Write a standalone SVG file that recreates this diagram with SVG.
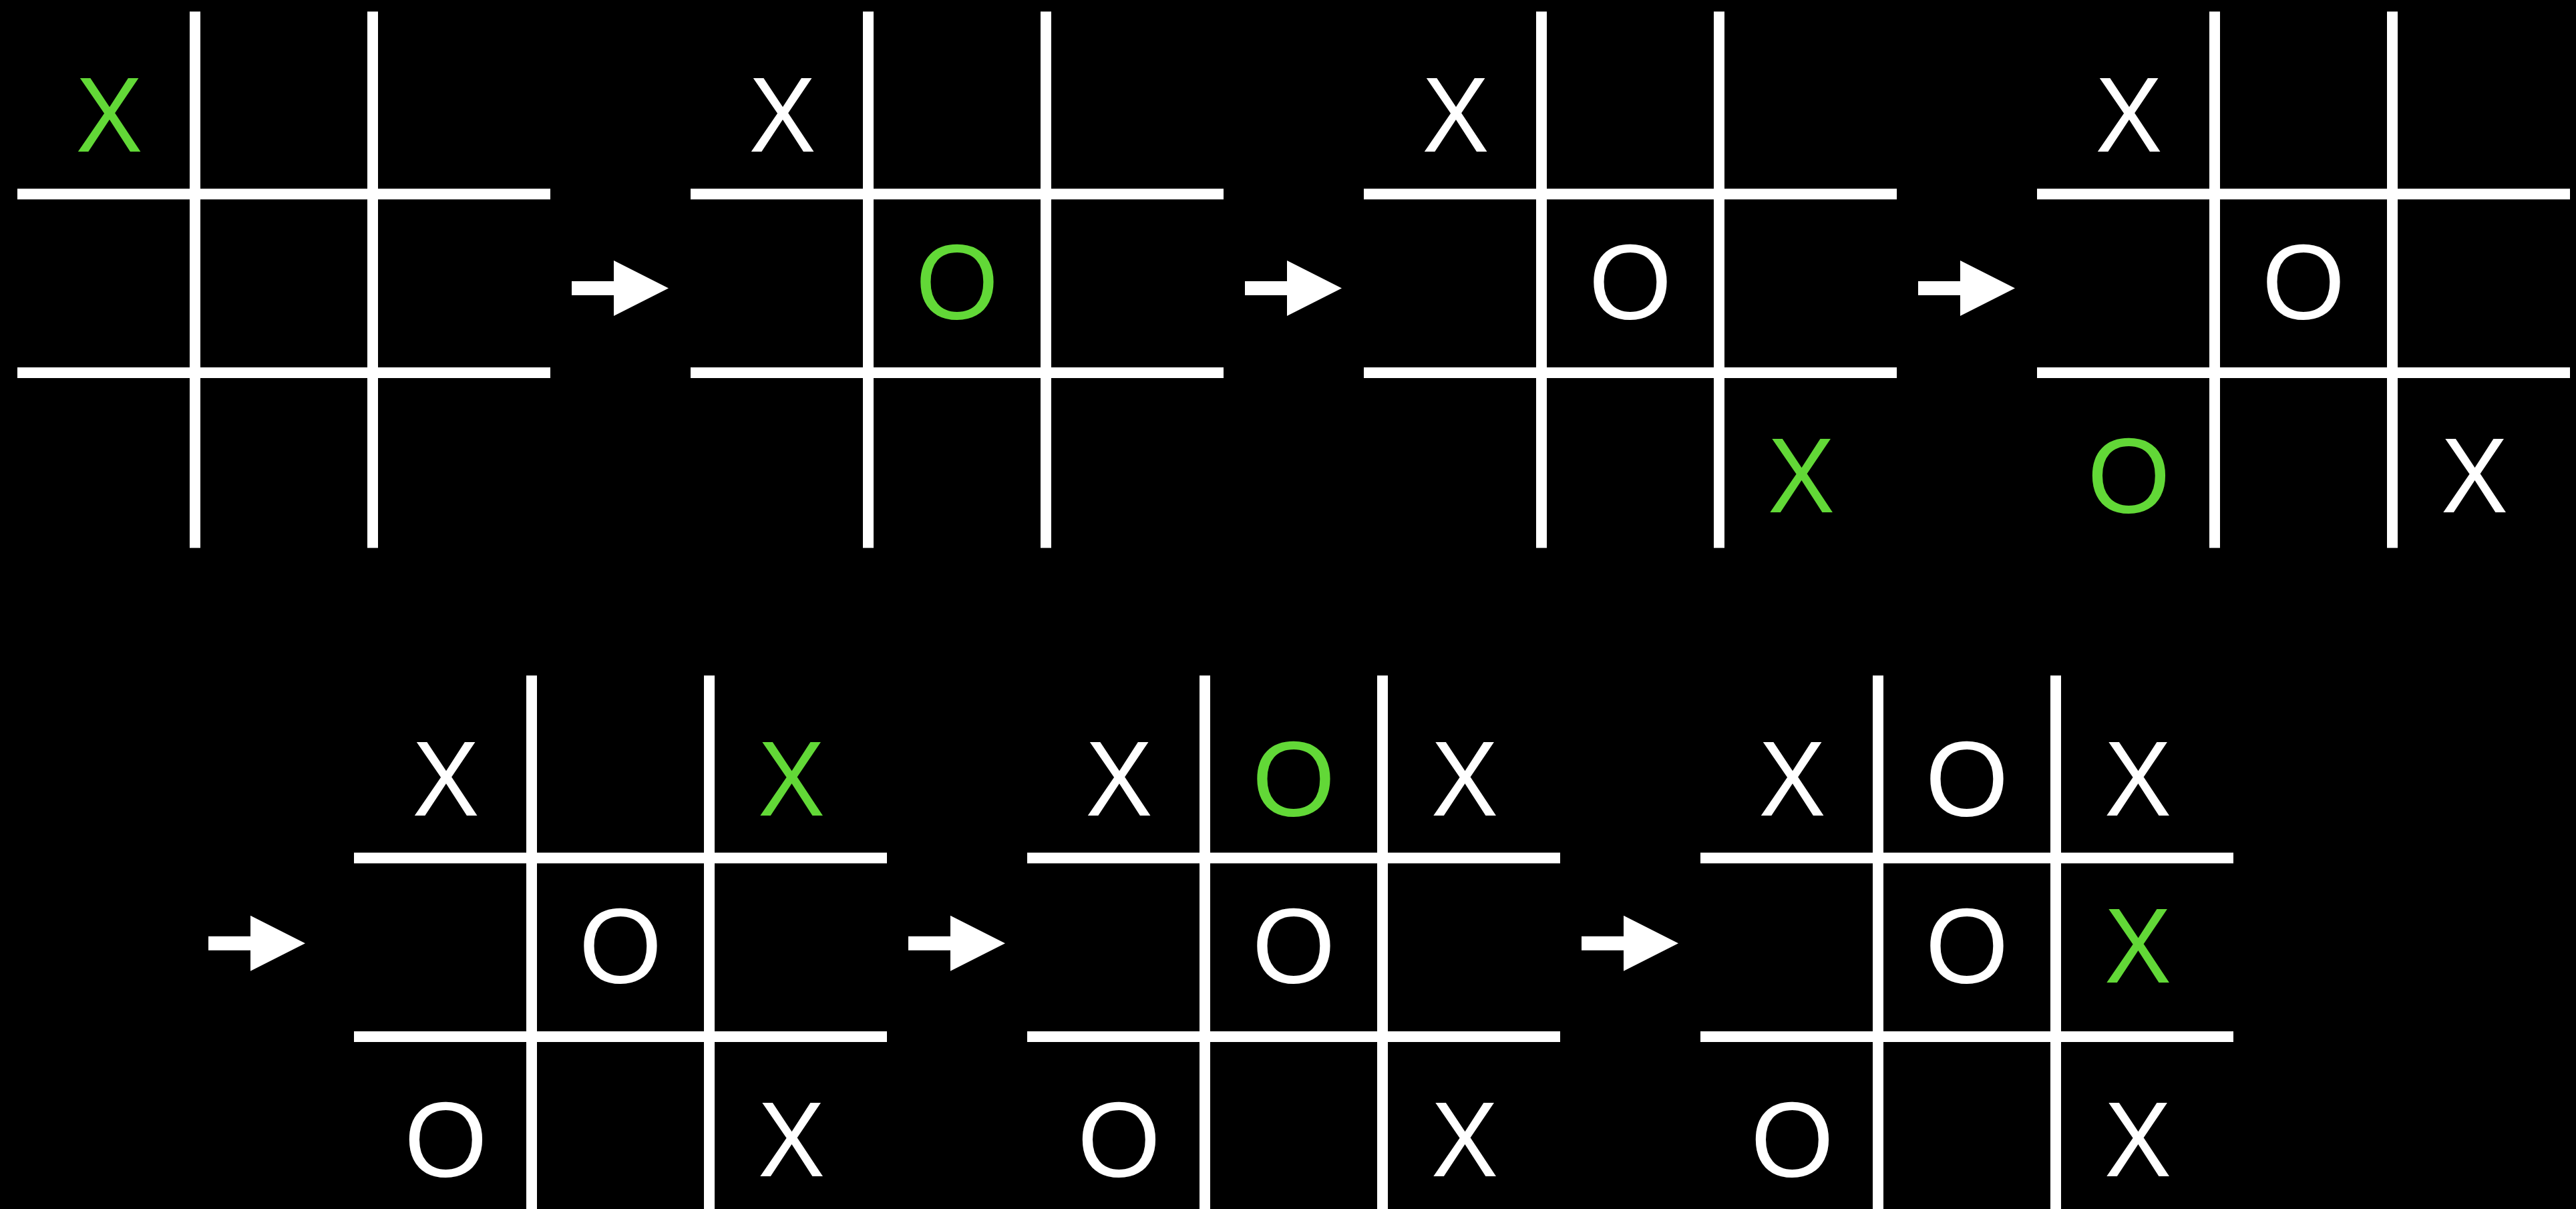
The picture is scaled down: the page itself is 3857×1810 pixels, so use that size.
<svg xmlns="http://www.w3.org/2000/svg" xmlns:xlink="http://www.w3.org/1999/xlink" width="3857" height="1810" viewBox="0 0 3857 1810">
<style>
.ln{fill:#ffffff}
.m{font-family:"Liberation Sans",Arial,Helvetica,sans-serif;font-size:160px;fill:#ffffff;text-anchor:middle}
.g{fill:#62D837}
.arr{fill:#ffffff}
</style>
<defs>
<g id="grid">
<rect class="ln" x="-8" y="0" width="16" height="803"/>
<rect class="ln" x="258" y="0" width="16" height="803"/>
<rect class="ln" x="-266" y="265.2" width="798" height="16"/>
<rect class="ln" x="-266" y="532.7" width="798" height="16"/>
</g>
<path id="arrow" d="M0,-10.5 H63 V-41.5 L145,0 L63,41.5 V10.5 H0 Z"/>
</defs>
<rect x="0" y="0" width="3857" height="1810" fill="#000000"/>

<g id="board1" transform="translate(292,17.3)">
<use xlink:href="#grid"/>
<text class="m g" x="-128.5" y="209.7" textLength="100" lengthAdjust="spacingAndGlyphs">X</text>
</g>

<g id="board2" transform="translate(1300,17.3)">
<use xlink:href="#grid"/>
<text class="m" x="-128.5" y="209.7" textLength="100" lengthAdjust="spacingAndGlyphs">X</text>
<text class="m g" x="133" y="460.2">O</text>
</g>

<g id="board3" transform="translate(2308,17.3)">
<use xlink:href="#grid"/>
<text class="m" x="-128.5" y="209.7" textLength="100" lengthAdjust="spacingAndGlyphs">X</text>
<text class="m" x="133" y="460.2">O</text>
<text class="m g" x="389" y="750.2" textLength="100" lengthAdjust="spacingAndGlyphs">X</text>
</g>

<g id="board4" transform="translate(3316,17.3)">
<use xlink:href="#grid"/>
<text class="m" x="-128.5" y="209.7" textLength="100" lengthAdjust="spacingAndGlyphs">X</text>
<text class="m" x="133" y="460.2">O</text>
<text class="m g" x="-128.5" y="750.2">O</text>
<text class="m" x="389" y="750.2" textLength="100" lengthAdjust="spacingAndGlyphs">X</text>
</g>

<g id="board5" transform="translate(796,1011.3)">
<use xlink:href="#grid"/>
<text class="m" x="-128.5" y="209.7" textLength="100" lengthAdjust="spacingAndGlyphs">X</text>
<text class="m g" x="389" y="209.7" textLength="100" lengthAdjust="spacingAndGlyphs">X</text>
<text class="m" x="133" y="460.2">O</text>
<text class="m" x="-128.5" y="750.2">O</text>
<text class="m" x="389" y="750.2" textLength="100" lengthAdjust="spacingAndGlyphs">X</text>
</g>

<g id="board6" transform="translate(1804,1011.3)">
<use xlink:href="#grid"/>
<text class="m" x="-128.5" y="209.7" textLength="100" lengthAdjust="spacingAndGlyphs">X</text>
<text class="m g" x="133" y="209.7">O</text>
<text class="m" x="389" y="209.7" textLength="100" lengthAdjust="spacingAndGlyphs">X</text>
<text class="m" x="133" y="460.2">O</text>
<text class="m" x="-128.5" y="750.2">O</text>
<text class="m" x="389" y="750.2" textLength="100" lengthAdjust="spacingAndGlyphs">X</text>
</g>

<g id="board7" transform="translate(2812,1011.3)">
<use xlink:href="#grid"/>
<text class="m" x="-128.5" y="209.7" textLength="100" lengthAdjust="spacingAndGlyphs">X</text>
<text class="m" x="133" y="209.7">O</text>
<text class="m" x="389" y="209.7" textLength="100" lengthAdjust="spacingAndGlyphs">X</text>
<text class="m" x="133" y="460.2">O</text>
<text class="m g" x="389" y="460.2" textLength="100" lengthAdjust="spacingAndGlyphs">X</text>
<text class="m" x="-128.5" y="750.2">O</text>
<text class="m" x="389" y="750.2" textLength="100" lengthAdjust="spacingAndGlyphs">X</text>
</g>

<g id="connectors">
<use class="arr" xlink:href="#arrow" transform="translate(856,431.5)"/>
<use class="arr" xlink:href="#arrow" transform="translate(1864,431.5)"/>
<use class="arr" xlink:href="#arrow" transform="translate(2872,431.5)"/>
<use class="arr" xlink:href="#arrow" transform="translate(312,1412.3)"/>
<use class="arr" xlink:href="#arrow" transform="translate(1360,1412.3)"/>
<use class="arr" xlink:href="#arrow" transform="translate(2368,1412.3)"/>
</g>
</svg>
